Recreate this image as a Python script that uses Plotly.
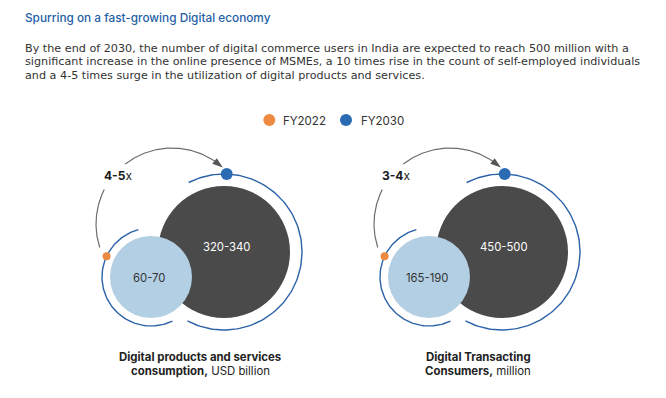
import numpy as np
import plotly.graph_objects as go

# ---- data ----
series_names = ["FY2022", "FY2030"]
category_line1 = ["Digital products and services", "Digital Transacting"]
category_line2 = ["consumption,", "Consumers,"]
category_units = ["USD billion", "million"]
fy2022_values = ["60-70", "165-190"]
fy2030_values = ["320-340", "450-500"]
growth_multiple = ["4-5", "3-4"]

title_text = "Spurring on a fast-growing Digital economy"
body_lines = [
    "By the end of 2030, the number of digital commerce users in India are expected to reach 500 million with a",
    "significant increase in the online presence of MSMEs, a 10 times rise in the count of self-employed individuals",
    "and a 4-5 times surge in the utilization of digital products and services.",
]

# ---- style ----
FONT = "Inter"
BODY_FONT = "DejaVu Sans"
BLUE_T = "#1f5fa6"
TXT = "#333333"
DARK = "#4a4a4a"
LIGHT = "#b3cfe3"
ARC_BLUE = "#2b62a8"
DOT_BLUE = "#2a6bb3"
ORANGE = "#ec8a42"
GRAY = "#6e6e6e"

W, H = 666, 398
PAGE_OFF = 8  # page body margin compensation
fig = go.Figure()
shapes = []
annotations = []


def arc_pts(cx, cy, r, a0, a1, n=120):
    t = np.radians(np.linspace(a0, a1, n))
    return cx + r * np.cos(t), cy - r * np.sin(t)


def pt(cx, cy, r, a):
    t = np.radians(a)
    return cx + r * np.cos(t), cy - r * np.sin(t)


offsets = [0, 278]
for i, dx in enumerate(offsets):
    bcx, bcy, br = 224 + dx, 252, 66
    lcx, lcy, lr = 151 + dx, 277, 41
    shapes.append(dict(type="circle", xref="x", yref="y", x0=bcx - br, x1=bcx + br,
                       y0=bcy - br, y1=bcy + br, fillcolor=DARK, line=dict(width=0), layer="below"))
    shapes.append(dict(type="circle", xref="x", yref="y", x0=lcx - lr, x1=lcx + lr,
                       y0=lcy - lr, y1=lcy + lr, fillcolor=LIGHT, line=dict(width=0), layer="below"))
    x, y = arc_pts(bcx, bcy, 78, 117, -118)
    fig.add_trace(go.Scatter(x=x, y=y, mode="lines", line=dict(color=ARC_BLUE, width=1.4),
                             hoverinfo="skip", showlegend=False))
    x, y = arc_pts(lcx, lcy, 49, 105, 296)
    fig.add_trace(go.Scatter(x=x, y=y, mode="lines", line=dict(color=ARC_BLUE, width=1.4),
                             hoverinfo="skip", showlegend=False))
    gcx, gcy, gr = 172 + dx, 224, 76
    for a0, a1 in [(198, 153), (128, 55)]:
        x, y = arc_pts(gcx, gcy, gr, a0, a1)
        fig.add_trace(go.Scatter(x=x, y=y, mode="lines", line=dict(color=GRAY, width=1.2),
                                 hoverinfo="skip", showlegend=False))
    tx, ty = pt(gcx, gcy, gr, 48)
    bx, by = pt(gcx, gcy, gr, 56)
    vx, vy = tx - bx, ty - by
    L = np.hypot(vx, vy)
    px, py = -vy / L * 3.6, vx / L * 3.6
    shapes.append(dict(type="path", xref="x", yref="y",
                       path=f"M{tx:.2f},{ty:.2f} L{bx+px:.2f},{by+py:.2f} L{bx-px:.2f},{by-py:.2f} Z",
                       fillcolor="#555555", line=dict(width=0)))
    ox, oy = pt(lcx, lcy, 49, 155)
    fig.add_trace(go.Scatter(x=[ox], y=[oy], mode="markers",
                             marker=dict(color=ORANGE, size=8, line=dict(width=0)),
                             name=series_names[0], hoverinfo="skip", showlegend=False))
    ux, uy = pt(bcx, bcy, 78, 88)
    fig.add_trace(go.Scatter(x=[ux], y=[uy], mode="markers",
                             marker=dict(color=DOT_BLUE, size=12, line=dict(width=0)),
                             name=series_names[1], hoverinfo="skip", showlegend=False))
    annotations.append(dict(x=bcx + 2, y=247, text=fy2030_values[i], showarrow=False,
                            font=dict(family=FONT, size=11.3, color="white"),
                            xanchor="center", yanchor="middle"))
    annotations.append(dict(x=lcx - 2, y=278, text=fy2022_values[i], showarrow=False,
                            font=dict(family=FONT, size=11.3, color=TXT),
                            xanchor="center", yanchor="middle"))
    annotations.append(dict(x=117.5 + dx, y=175, text=f"<b>{growth_multiple[i]}</b>x", showarrow=False,
                            font=dict(family=FONT, size=12, color="#1a1a1a"),
                            xanchor="center", yanchor="middle"))
    annotations.append(dict(x=200 + dx, y=357, text=f"<b>{category_line1[i]}</b>", showarrow=False,
                            font=dict(family=FONT, size=11.4, color="#222222"),
                            xanchor="center", yanchor="middle"))
    annotations.append(dict(x=200 + dx, y=370.5, text=f"<b>{category_line2[i]}</b> {category_units[i]}",
                            showarrow=False, font=dict(family=FONT, size=11.4, color="#222222"),
                            xanchor="center", yanchor="middle"))

leg_dot_x = [269.3, 346]
leg_txt_x = [281, 359]
leg_cols = [ORANGE, DOT_BLUE]
for k in range(2):
    fig.add_trace(go.Scatter(x=[leg_dot_x[k]], y=[120], mode="markers",
                             marker=dict(color=leg_cols[k], size=12, line=dict(width=0)),
                             hoverinfo="skip", showlegend=False))
    annotations.append(dict(x=leg_txt_x[k], y=120.5, text=series_names[k], showarrow=False,
                            font=dict(family=FONT, size=11.5, color=TXT),
                            xanchor="left", yanchor="middle"))

annotations.append(dict(x=23, y=17.5, text=title_text, showarrow=False,
                        font=dict(family=FONT, size=11.8, color=BLUE_T, weight=500),
                        xanchor="left", yanchor="middle"))
for j, line in enumerate(body_lines):
    annotations.append(dict(x=23, y=48 + j * 13.6, text=line, showarrow=False,
                            font=dict(family=BODY_FONT, size=11.2, color=TXT),
                            xanchor="left", yanchor="middle"))

fig.update_layout(
    width=W, height=H, margin=dict(l=0, r=0, t=0, b=0),
    paper_bgcolor="white", plot_bgcolor="white",
    xaxis=dict(range=[PAGE_OFF, W + PAGE_OFF], visible=False, fixedrange=True),
    yaxis=dict(range=[H + PAGE_OFF, PAGE_OFF], visible=False, fixedrange=True),
    shapes=shapes, annotations=annotations, showlegend=False,
)
fig.write_html("out.html")
